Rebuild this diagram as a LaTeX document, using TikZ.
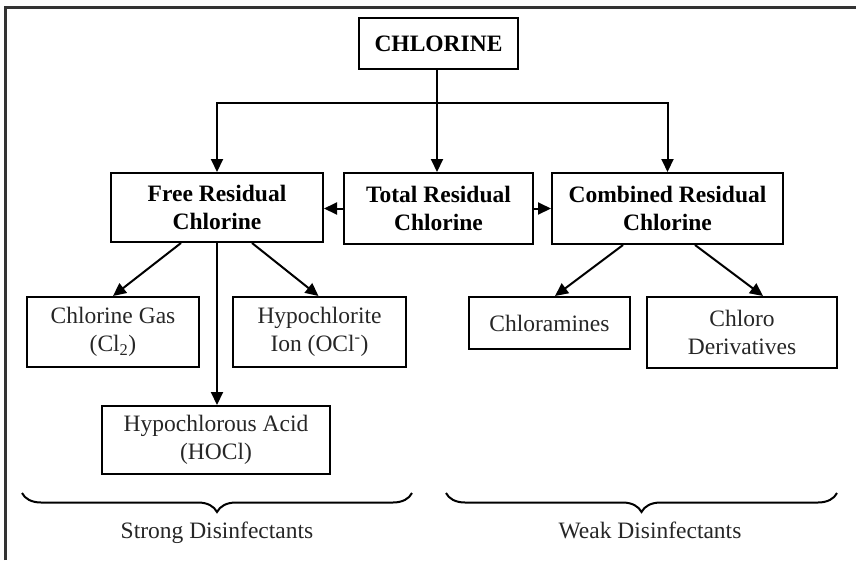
\documentclass[tikz,border=0pt]{standalone}
\usepackage{fontspec}
\setmainfont{Liberation Serif}
\usetikzlibrary{arrows.meta,decorations.pathreplacing}
\begin{document}
\begin{tikzpicture}[x=1pt,y=-1pt,
  box/.style={draw=black,line width=2pt,inner sep=0pt,align=center,
    font=\fontsize{23.5}{27.5}\selectfont,text=black!85},
  bbox/.style={box,font=\fontsize{23.5}{27.5}\selectfont\bfseries,text=black},
  arr/.style={line width=2pt,-{Triangle[length=13pt,width=12pt]}},
  brc/.style={line width=2pt,decorate,decoration={brace,mirror,amplitude=19pt}},
  lbl/.style={font=\fontsize{23.5}{27.5}\selectfont,text=black!85,inner sep=0pt,anchor=base}]
\useasboundingbox (0,0) rectangle (856,560);
% frame (top and left edges)
\draw[line width=3pt,black!80] (5,560) -- (5,7) -- (856,7);
% nodes
\node[bbox,minimum width=159pt,minimum height=51pt] (chl) at (438.5,43.5) {CHLORINE};
\node[bbox,minimum width=212pt,minimum height=69pt] (free) at (217,207.5) {Free Residual\\Chlorine};
\node[bbox,minimum width=189pt,minimum height=71pt] (total) at (438.5,208.5) {Total Residual\\Chlorine};
\node[bbox,minimum width=231pt,minimum height=71pt] (comb) at (667.5,208.5) {Combined Residual\\Chlorine};
\node[box,minimum width=172pt,minimum height=70pt] (gas) at (113,332) {Chlorine Gas\\(Cl\textsubscript{2})};
\node[box,minimum width=173pt,minimum height=70pt] (ion) at (319.5,332) {Hypochlorite\\Ion (OCl\textsuperscript{-})};
\node[box,minimum width=228pt,minimum height=68pt] (hacid) at (216,440) {Hypochlorous Acid\\(HOCl)};
\node[box,minimum width=161pt,minimum height=52pt] (chloram) at (549.5,323) {Chloramines};
\node[box,minimum width=190pt,minimum height=71pt] (deriv) at (742,332.5) {Chloro\\Derivatives};
% connectors
\coordinate (j) at (437,103);
\draw[arr] (chl.south -| j) -- (total.north -| j);
\draw[arr] (j) -| (free.north);
\draw[arr] (j) -| (comb.north);
\draw[arr] (total.west) -- (total.west -| free.east);
\draw[arr] (total.east) -- (total.east -| comb.west);
\draw[arr] (free.south) -- (free.south |- hacid.north);
\draw[arr] ([xshift=-36pt]free.south) -- (gas.north);
\draw[arr] ([xshift=35pt]free.south) -- ([xshift=-1pt]ion.north);
\draw[arr] ([xshift=-44.5pt]comb.south) -- ([xshift=5.5pt]chloram.north);
\draw[arr] ([xshift=27.5pt]comb.south) -- ([xshift=21pt]deriv.north);
% braces
\coordinate (b1a) at (22,493);
\coordinate (b1b) at (412,493);
\coordinate (b2a) at (446,493);
\coordinate (b2b) at (837,493);
\draw[brc] (b1a) -- (b1b);
\draw[brc] (b2a) -- (b2b);
\node[lbl] (strong) at (217,538) {Strong Disinfectants};
\node[lbl] (weak) at (650,538) {Weak Disinfectants};
\end{tikzpicture}
\end{document}
